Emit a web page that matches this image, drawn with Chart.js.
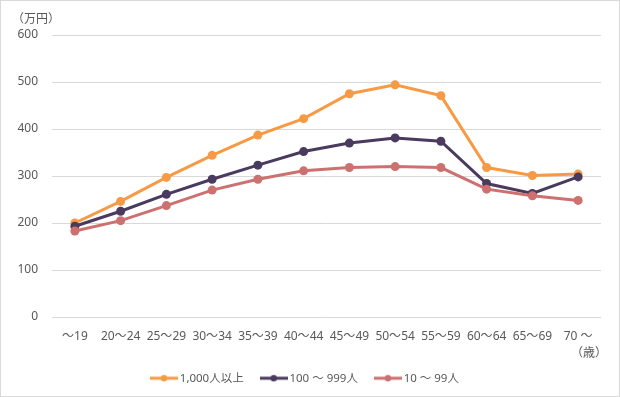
<!DOCTYPE html>
<html>
<head>
<meta charset="utf-8">
<script src="https://cdn.jsdelivr.net/npm/chart.js@4"></script>
<style>
  body { margin: 0; background: #fff; }
  #wrap { box-sizing: border-box; width: 620px; height: 397px; border: 1px solid #d9d9d9; }
</style>
</head>
<body>
<div id="wrap"><canvas id="wageChart"></canvas></div>
<script>
// age groups and wages (万円) by company size
const ageGroups = ["～19", "20～24", "25～29", "30～34", "35～39", "40～44", "45～49", "50～54", "55～59", "60～64", "65～69", "70 ～"];
const large = [200, 246, 297, 344, 387, 422, 475, 494, 471, 318, 301, 304];
const medium = [193, 225, 261, 293, 323, 352, 370, 381, 374, 284, 263, 298];
const small = [183, 205, 237, 270, 293, 311, 318, 320, 318, 272, 258, 248];
const seriesNames = ["1,000人以上", "100 ～ 999人", "10 ～ 99人"];
const colors = ['#F79A45', '#4A3A5E', '#CC7070'];
const yTicks = [0, 100, 200, 300, 400, 500, 600];

const textColor = '#595959';
Chart.defaults.font.family = "'Noto Sans', 'Noto Sans CJK JP', sans-serif";
Chart.defaults.font.size = 12;
Chart.defaults.color = textColor;

function series(label, data, color, order) {
    return {
        label: label,
        data: data,
        borderColor: color,
        backgroundColor: color,
        pointBackgroundColor: color,
        pointBorderWidth: 0,
        pointRadius: 4.5,
        borderWidth: 3,
        tension: 0,
        order: order
    };
}

// legend marker: short line with a dot, like the spreadsheet legend
function legendMarker(color) {
    const c = document.createElement('canvas');
    c.width = 28;
    c.height = 8;
    const g = c.getContext('2d');
    g.fillStyle = color;
    g.fillRect(0, 2.5, 28, 3);
    g.beginPath();
    g.arc(14, 4, 3.2, 0, Math.PI * 2);
    g.fill();
    return c;
}
const markers = colors.map(legendMarker);

// "（歳）" unit label under the last category
const xUnit = {
    id: 'xUnit',
    afterDraw(chart) {
        const ctx = chart.ctx;
        ctx.save();
        ctx.font = "12px 'Noto Sans', 'Noto Sans CJK JP', sans-serif";
        ctx.fillStyle = textColor;
        ctx.textAlign = 'right';
        ctx.textBaseline = 'middle';
        ctx.fillText('（歳）', chart.chartArea.right + 6, 353);
        ctx.restore();
    }
};

const wageChart = new Chart(document.getElementById('wageChart'), {
    type: 'line',
    data: {
        labels: ageGroups,
        datasets: [
            series(seriesNames[0], large, colors[0], 3),
            series(seriesNames[1], medium, colors[1], 2),
            series(seriesNames[2], small, colors[2], 1)
        ]
    },
    options: {
        responsive: true,
        maintainAspectRatio: false,
        animation: false,
        layout: { padding: { left: 11, right: 18, top: 0, bottom: 2 } },
        plugins: {
            tooltip: { enabled: false },
            title: {
                display: true,
                text: '（万円）',
                align: 'start',
                color: textColor,
                font: { size: 12, weight: 'normal' },
                padding: { top: 11, bottom: 8.6 }
            },
            legend: {
                position: 'bottom',
                labels: {
                    usePointStyle: true,
                    pointStyleWidth: 20,
                    padding: 20,
                    color: textColor,
                    font: { size: 11.5 },
                    sort: (a, b) => a.datasetIndex - b.datasetIndex,
                    generateLabels: (chart) => {
                        const items = Chart.defaults.plugins.legend.labels.generateLabels(chart);
                        items.forEach(item => { item.pointStyle = markers[item.datasetIndex]; });
                        return items;
                    }
                }
            }
        },
        scales: {
            x: {
                offset: true,
                grid: { display: false, drawTicks: false },
                border: { display: false },
                ticks: { padding: 12, maxRotation: 0, autoSkip: false, color: textColor },
                afterFit: (scale) => { scale.height = 35.5; }
            },
            y: {
                min: 0,
                max: 600,
                grid: { color: '#d9d9d9', lineWidth: 1, drawTicks: false },
                border: { display: false },
                afterBuildTicks: (scale) => { scale.ticks = yTicks.map(v => ({ value: v })); },
                ticks: { padding: 14, color: textColor },
                afterFit: (scale) => { scale.width = 40; }
            }
        }
    },
    plugins: [xUnit]
});
</script>
</body>
</html>
